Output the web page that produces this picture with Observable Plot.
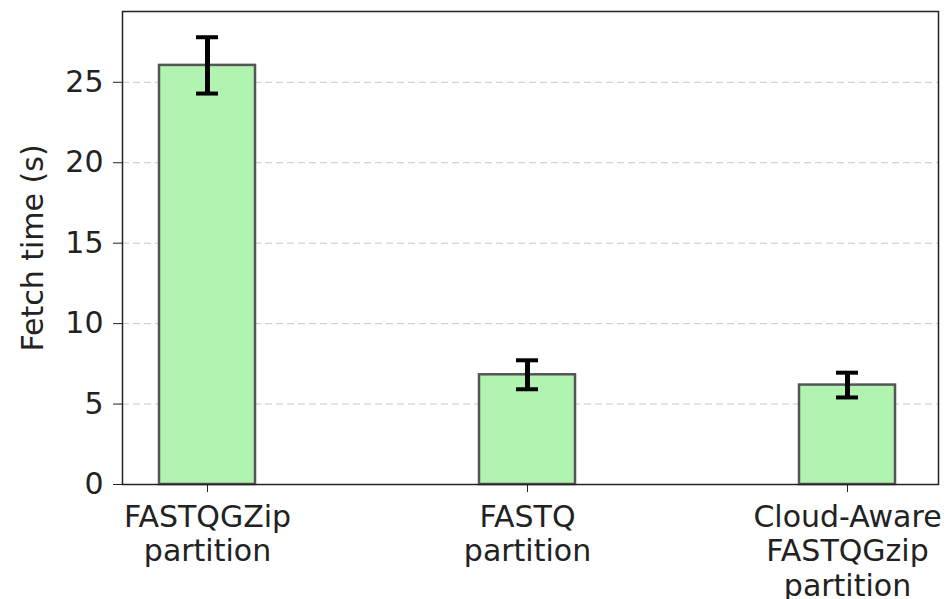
<!DOCTYPE html>
<html>
<head>
<meta charset="utf-8">
<script src="https://cdn.jsdelivr.net/npm/d3@7"></script>
<script src="https://cdn.jsdelivr.net/npm/@observablehq/plot@0.6"></script>
<style>
  html, body { margin: 0; padding: 0; background: #fff; }
</style>
</head>
<body>
<div id="chart"></div>
<script>
const categories = ["FASTQGZip\npartition", "FASTQ\npartition", "Cloud-Aware\nFASTQGzip\npartition"];
const values = [26.05, 6.82, 6.18];
const errors = [1.75, 0.9, 0.77];
const yTicks = [0, 5, 10, 15, 20, 25];

const data = categories.map((c, i) => ({cat: c, v: values[i], lo: values[i] - errors[i], hi: values[i] + errors[i]}));

const fontSize = 30;

const chart = Plot.plot({
  width: 949,
  height: 599,
  marginLeft: 122,
  marginRight: 11,
  marginTop: 11,
  marginBottom: 115,
  style: {fontFamily: "DejaVu Sans", fontSize: fontSize + "px", color: "#222", background: "#fff"},
  x: {type: "band", domain: categories, paddingInner: 0.7, paddingOuter: 0.125, align: 0.46},
  y: {domain: [0, 29.4]},
  marks: [
    Plot.gridY(yTicks, {stroke: "#c8c8c8", strokeOpacity: 1, strokeDasharray: "7,4", strokeWidth: 1}),
    Plot.barY(data, {x: "cat", y: "v", fill: "#b1f3b1", stroke: "#555", strokeWidth: 2.5}),
    Plot.ruleX(data, {x: "cat", y1: "lo", y2: "hi", stroke: "#000", strokeWidth: 5}),
    Plot.tickY(data, {x: "cat", y: "lo", stroke: "#000", strokeWidth: 4, insetLeft: 37, insetRight: 37}),
    Plot.tickY(data, {x: "cat", y: "hi", stroke: "#000", strokeWidth: 4, insetLeft: 37, insetRight: 37}),
    Plot.axisY({ticks: yTicks, tickSize: 9, tickPadding: 10, stroke: "#222", fontSize: fontSize,
      label: "Fetch time (s)", labelAnchor: "center", labelArrow: "none", labelOffset: 101}),
    Plot.axisX({tickSize: 8, tickPadding: 10, stroke: "#222", fontSize: fontSize, lineHeight: 1.15, label: null}),
    Plot.frame({stroke: "#222", strokeWidth: 1.5})
  ]
});
document.getElementById("chart").appendChild(chart);
</script>
</body>
</html>
